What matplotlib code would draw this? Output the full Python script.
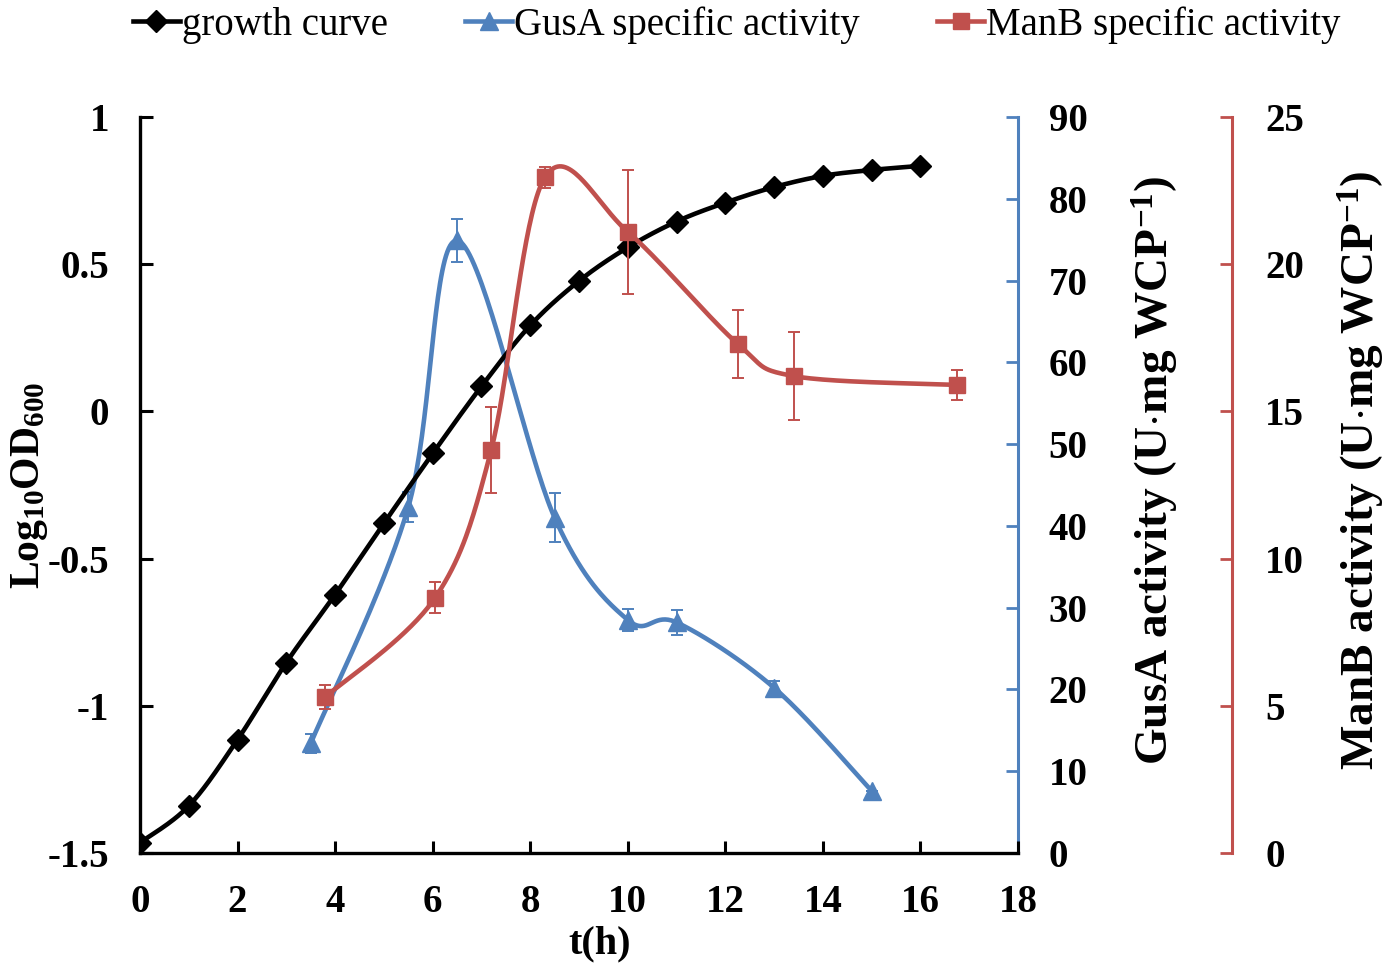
import matplotlib
matplotlib.use('Agg')
import matplotlib.pyplot as plt
from matplotlib.lines import Line2D
import numpy as np

plt.rcParams['font.family'] = 'Liberation Serif'
plt.rcParams['font.weight'] = 'bold'
plt.rcParams['axes.labelweight'] = 'bold'
plt.rcParams['axes.unicode_minus'] = False
plt.rcParams['mathtext.fontset'] = 'custom'
plt.rcParams['mathtext.rm'] = 'Liberation Serif:bold'
plt.rcParams['mathtext.bf'] = 'Liberation Serif:bold'
plt.rcParams['mathtext.it'] = 'Liberation Serif:bold:italic'

# growth curve (log10 OD600)
t_growth = [0, 1, 2, 3, 4, 5, 6, 7, 8, 9, 10, 11, 12, 13, 14, 15, 16]
log_od = [-1.465, -1.34, -1.115, -0.853, -0.622, -0.38, -0.143, 0.085, 0.292,
          0.443, 0.557, 0.645, 0.709, 0.762, 0.80, 0.82, 0.834]

# GusA specific activity
t_gus = [3.5, 5.5, 6.5, 8.5, 10, 11, 13, 15]
gus = [13.4, 42.3, 74.9, 41.0, 28.5, 28.2, 20.2, 7.6]
gus_err = [1.2, 1.8, 2.6, 3.0, 1.3, 1.5, 0.8, 0.0]

# ManB specific activity
t_man = [3.8, 6.05, 7.2, 8.3, 10, 12.25, 13.4, 16.75]
man = [5.3, 8.67, 13.69, 22.95, 21.1, 17.3, 16.2, 15.9]
man_err = [0.4, 0.53, 1.45, 0.35, 2.1, 1.15, 1.5, 0.5]

black = 'black'
blue = '#4F81BD'
red = '#C0504D'


def smooth(x, y, n=40):
    # excel-like smoothed line (catmull-rom as cubic bezier)
    p = np.column_stack([x, y]).astype(float)
    p = np.vstack([p[0], p, p[-1]])
    t = np.linspace(0, 1, n)[:, None]
    segs = []
    for i in range(1, len(p) - 2):
        p0, p1, p2, p3 = p[i - 1], p[i], p[i + 1], p[i + 2]
        b1 = p1 + (p2 - p0) / 6
        b2 = p2 - (p3 - p1) / 6
        segs.append((1 - t) ** 3 * p1 + 3 * (1 - t) ** 2 * t * b1
                    + 3 * (1 - t) * t ** 2 * b2 + t ** 3 * p2)
    s = np.vstack(segs)
    return s[:, 0], s[:, 1]


lw = 3.3

fig = plt.figure(figsize=(13.9, 9.66), dpi=100)
ax = fig.add_axes([140 / 1390, 1 - 853 / 966, 878 / 1390, 736 / 966])
ax_g = ax.twinx()
ax_m = ax.twinx()
ax_g.set_zorder(1)
ax.set_zorder(2)
ax_m.set_zorder(3)
ax.patch.set_visible(False)

# growth curve
xs, ys = smooth(t_growth, log_od)
ax.plot(xs, ys, color=black, lw=lw)
ax.plot(t_growth, log_od, ls='none', marker='D', ms=11, color=black)

# GusA
xs, ys = smooth(t_gus, gus)
ax_g.plot(xs, ys, color=blue, lw=lw)
ax_g.errorbar(t_gus, gus, yerr=gus_err, fmt='none', ecolor=blue,
              elinewidth=1.4, capsize=4.5, capthick=1.4)
ax_g.plot(t_gus, gus, ls='none', marker='^', ms=13, color=blue)

# ManB
xs, ys = smooth(t_man, man)
ax_m.plot(xs, ys, color=red, lw=lw)
ax_m.errorbar(t_man, man, yerr=man_err, fmt='none', ecolor=red,
              elinewidth=1.4, capsize=4.5, capthick=1.4)
ax_m.plot(t_man, man, ls='none', marker='s', ms=11.5, color=red)

# primary axis
ax.set_xlim(0, 18)
ax.set_ylim(-1.5, 1)
ax.set_xticks(np.arange(0, 19, 2))
ax.set_yticks([-1.5, -1, -0.5, 0, 0.5, 1])
ax.set_yticklabels(['-1.5', '-1', '-0.5', '0', '0.5', '1'])
for s in ['top', 'right']:
    ax.spines[s].set_visible(False)
for s in ['left', 'bottom']:
    ax.spines[s].set_linewidth(2.4)
ax.tick_params(direction='in', length=9, width=2.2, pad=22, labelsize=28)
ax.set_xlabel('t(h)', fontsize=29)
ax.xaxis.set_label_coords(0.524, -0.098)
ax.set_ylabel(r'Log$\mathregular{_{10}}$OD$\mathregular{_{600}}$', fontsize=30)
ax.yaxis.set_label_coords(-0.103, 0.5)

# GusA axis
ax_g.set_ylim(0, 90)
ax_g.set_yticks(np.arange(0, 91, 10))
for s in ['top', 'left', 'bottom']:
    ax_g.spines[s].set_visible(False)
ax_g.spines['right'].set_color(blue)
ax_g.spines['right'].set_linewidth(2.2)
ax_g.tick_params(axis='y', direction='in', length=9, width=2, pad=22,
                 labelsize=28, color=blue, labelcolor='black')
ax_g.set_ylabel(r'GusA activity (U$\cdot$mg WCP$\mathregular{^{-1}}$)', fontsize=34)
ax_g.yaxis.set_label_coords(1.128, 0.52)

# ManB axis
ax_m.set_ylim(0, 25)
ax_m.set_yticks(np.arange(0, 26, 5))
ax_m.spines['right'].set_position(('axes', 1.2437))
for s in ['top', 'left', 'bottom']:
    ax_m.spines[s].set_visible(False)
ax_m.spines['right'].set_color(red)
ax_m.spines['right'].set_linewidth(2.2)
ax_m.tick_params(axis='y', direction='in', length=9, width=2, pad=24,
                 labelsize=28, color=red, labelcolor='black')
ax_m.set_ylabel(r'ManB activity (U$\cdot$mg WCP$\mathregular{^{-1}}$)', fontsize=34)
ax_m.yaxis.set_label_coords(1.362, 0.52)

handles = [
    Line2D([], [], color=black, lw=lw, marker='D', ms=11),
    Line2D([], [], color=blue, lw=lw, marker='^', ms=13),
    Line2D([], [], color=red, lw=lw, marker='s', ms=11.5),
]
labels = ['growth curve', 'GusA specific activity', 'ManB specific activity']
fig.legend(handles, labels, loc='center', bbox_to_anchor=(0.53, 0.974),
           ncol=3, frameon=False, prop={'weight': 'normal', 'size': 28},
           handlelength=1.2, handletextpad=0.05, columnspacing=2.0,
           borderpad=0)

fig.savefig('out.png', dpi=100, facecolor='white')
